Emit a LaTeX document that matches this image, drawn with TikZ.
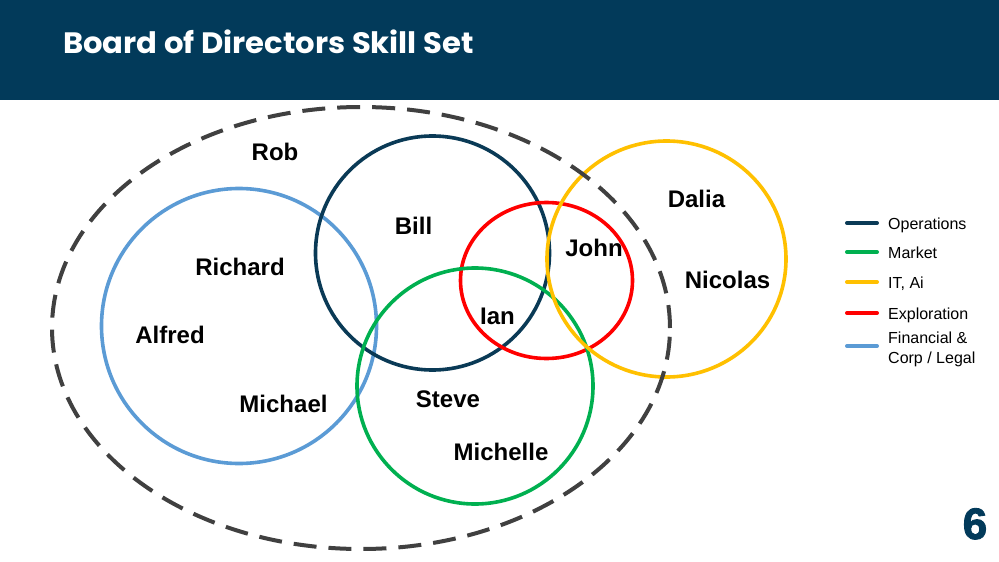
\documentclass[tikz,border=0pt]{standalone}
\usepackage{fontspec}
\setmainfont{Liberation Sans}
\newfontfamily\titlefont{Poppins}
\newfontfamily\sixfont{Liberation Sans}[BoldFeatures={FakeBold=2}]
\definecolor{headnavy}{RGB}{2,58,90}
\definecolor{opsnavy}{RGB}{10,58,86}
\definecolor{mktgreen}{RGB}{0,176,80}
\definecolor{ityellow}{RGB}{255,192,0}
\definecolor{expred}{RGB}{255,0,0}
\definecolor{finblue}{RGB}{91,155,213}
\definecolor{dashgray}{RGB}{64,64,64}
\tikzset{
  ring/.style={line width=3.6pt},
  personlabel/.style={anchor=base, font=\fontsize{24}{28}\selectfont\bfseries, inner sep=0pt},
  legline/.style={line width=4pt, line cap=round},
  legtext/.style={anchor=base west, font=\fontsize{16}{20}\selectfont, inner sep=0pt},
}
\begin{document}
\begin{tikzpicture}[x=1pt,y=-1pt]
\useasboundingbox (0,0) rectangle (999,562);
\fill[white] (0,0) rectangle (999,562);
% header
\fill[headnavy] (0,0) rectangle (999,100);
\node[anchor=base west, inner sep=0pt, text=white, font=\titlefont\fontsize{29.5}{33}\selectfont\bfseries] (title) at (63,53) {\scalebox{1.04}[1]{Board of Directors Skill Set}};
% circles
\draw[ring, finblue] (239,326) circle[radius=137.5pt];
\draw[ring, opsnavy] (432.5,253) circle[radius=117pt];
\draw[ring, expred] (546.5,280.5) ellipse[x radius=86pt, y radius=78pt];
\draw[ring, mktgreen] (475,386) circle[radius=118pt];
\draw[ring, ityellow] (666.5,259) ellipse[x radius=119.5pt, y radius=118pt];
\draw[line width=4pt, dashgray, dash pattern=on 23pt off 12pt] (361,328) ellipse[x radius=309pt, y radius=221pt];
% names
\node[personlabel] (rob) at (275,160.6) {Rob};
\node[personlabel] (richard) at (240,275) {Richard};
\node[personlabel] (alfred) at (170,343.6) {Alfred};
\node[personlabel] (michael) at (283.5,412.5) {Michael};
\node[personlabel] (bill) at (413.5,234.6) {Bill};
\node[personlabel] (ian) at (497.5,324) {Ian};
\node[personlabel] (john) at (594,256.6) {John};
\node[personlabel] (dalia) at (696.5,207) {Dalia};
\node[personlabel] (nicolas) at (727.5,288) {Nicolas};
\node[personlabel] (steve) at (448,407) {Steve};
\node[personlabel] (michelle) at (501,460) {Michelle};
% legend
\coordinate (l1a) at (847,223); \coordinate (l1b) at (877,223);
\coordinate (l2a) at (847,252); \coordinate (l2b) at (877,252);
\coordinate (l3a) at (847,282); \coordinate (l3b) at (877,282);
\coordinate (l4a) at (847,313); \coordinate (l4b) at (877,313);
\coordinate (l5a) at (847,346); \coordinate (l5b) at (877,346);
\draw[legline, opsnavy] (l1a) -- (l1b);
\draw[legline, mktgreen] (l2a) -- (l2b);
\draw[legline, ityellow] (l3a) -- (l3b);
\draw[legline, expred] (l4a) -- (l4b);
\draw[legline, finblue] (l5a) -- (l5b);
\node[legtext] (t1) at (888,229) {Operations};
\node[legtext] (t2) at (888,258) {Market};
\node[legtext] (t3) at (888,288) {IT, Ai};
\node[legtext] (t4) at (888,319) {Exploration};
\node[legtext] (t5a) at (888,343) {Financial \&};
\node[legtext] (t5b) at (888,363) {Corp / Legal};
% page number
\node[anchor=base, inner sep=0pt, text=headnavy, font=\sixfont\fontsize{44}{48}\selectfont\bfseries] (pagenum) at (975,539) {6};
\end{tikzpicture}
\end{document}
